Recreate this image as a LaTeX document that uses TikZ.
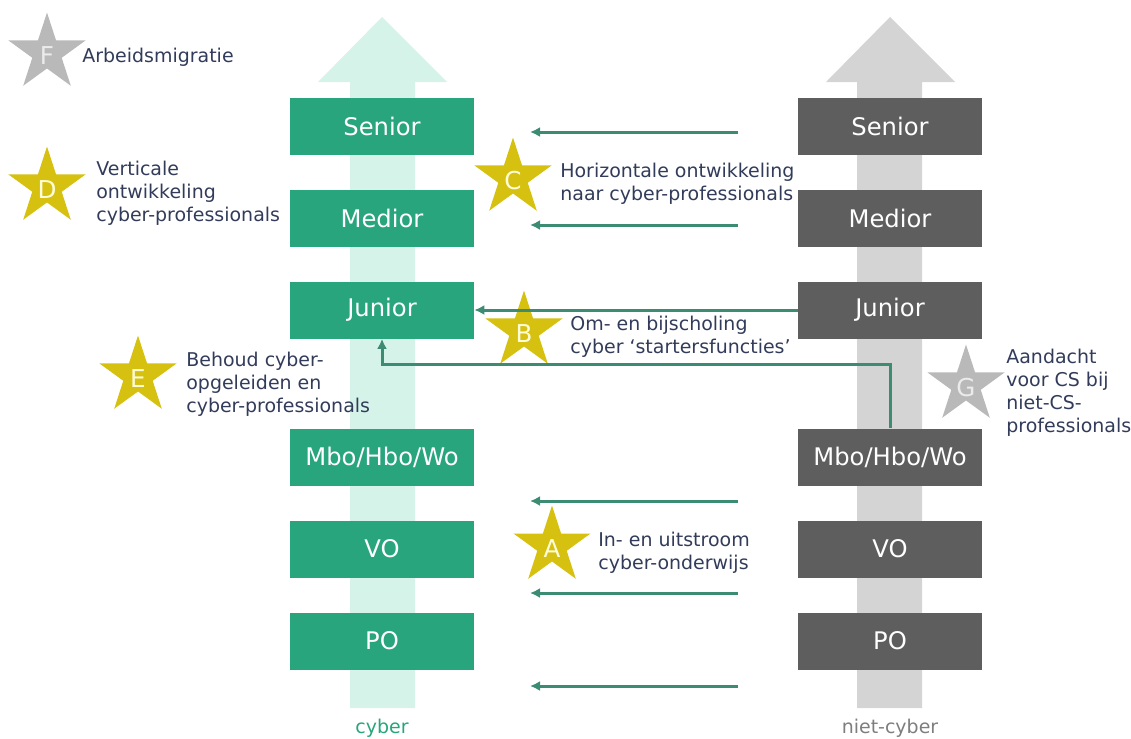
\documentclass[tikz,border=0pt]{standalone}
\usepackage{fontspec}
\setmainfont{DejaVu Sans}
\usetikzlibrary{shapes,arrows.meta,positioning,calc}

\definecolor{cybergreen}{RGB}{40,165,125}
\definecolor{cybermint}{RGB}{214,243,234}
\definecolor{nietgray}{RGB}{94,94,94}
\definecolor{nietlight}{RGB}{212,212,212}
\definecolor{linkgreen}{RGB}{60,140,115}
\definecolor{staryellow}{RGB}{214,192,16}
\definecolor{stargray}{RGB}{185,185,185}
\definecolor{labelnavy}{RGB}{50,60,90}

\newcommand{\sterletter}[1]{\smash{\raisebox{-6.5pt}{#1}}}

\begin{document}
\begin{tikzpicture}[x=0.02cm, y=-0.02cm,
    box/.style={rectangle, minimum width=3.68cm, minimum height=1.14cm, text=white, font=\fontsize{13.8}{16}\selectfont},
    cyberbox/.style={box, fill=cybergreen},
    nietbox/.style={box, fill=nietgray},
    ster/.style={star, star points=5, star point ratio=2.618, minimum size=1.62cm, inner sep=0pt, font=\fontsize{14}{16}\selectfont},
    geel/.style={ster, fill=staryellow, text=yellow!15},
    grijs/.style={ster, fill=stargray, text=white!92!black},
    label/.style={anchor=west, align=left, inner sep=0pt, text=labelnavy, font=\fontsize{10.8}{13}\selectfont},
    conn/.style={draw=linkgreen, line width=1.7pt, -{Latex[length=2mm,width=2mm]}}
]
\useasboundingbox (0,0) rectangle (1131,738);

% Background arrows
\fill[cybermint] (350,708) -- (350,82) -- (318,82) -- (382,17) -- (447,82) -- (415,82) -- (415,708) -- cycle;
\fill[nietlight] (857,708) -- (857,82) -- (826,82) -- (890,17) -- (955,82) -- (922,82) -- (922,708) -- cycle;

% Cyber column
\node[cyberbox] (senior) at (382,126) {Senior};
\node[cyberbox] (medior) at (382,218) {Medior};
\node[cyberbox] (junior) at (382,310) {Junior};
\node[cyberbox] (mbo) at (382,457) {Mbo/Hbo/Wo};
\node[cyberbox] (vo) at (382,549) {VO};
\node[cyberbox] (po) at (382,641) {PO};
\node[font=\fontsize{10.8}{13}\selectfont, text=cybergreen] (cyber) at (382,728) {cyber};

% Niet-cyber column
\node[nietbox] (nsenior) at (890,126) {Senior};
\node[nietbox] (nmedior) at (890,218) {Medior};
\node[nietbox] (njunior) at (890,310) {Junior};
\node[nietbox] (nmbo) at (890,457) {Mbo/Hbo/Wo};
\node[nietbox] (nvo) at (890,549) {VO};
\node[nietbox] (npo) at (890,641) {PO};
\node[font=\fontsize{10.8}{13}\selectfont, text=nietgray!80] (nietcyber) at (890,728) {niet-cyber};

% Stars
\node[grijs] (sterF) at (47,53) {\sterletter{F}};
\node[geel] (sterD) at (47,187) {\sterletter{D}};
\node[geel] (sterC) at (513,178) {\sterletter{C}};
\node[geel] (sterB) at (524,331) {\sterletter{B}};
\node[geel] (sterE) at (138,376) {\sterletter{E}};
\node[grijs] (sterG) at (966,385) {\sterletter{G}};
\node[geel] (sterA) at (552,546) {\sterletter{A}};

% Labels
\node[label] (txtF) at (82,57) {Arbeidsmigratie};
\node[label] (txtD) at (96,193) {Verticale\\ontwikkeling\\cyber-professionals};
\node[label] (txtC) at (560,184) {Horizontale ontwikkeling\\naar cyber-professionals};
\node[label] (txtB) at (570,337) {Om- en bijscholing\\cyber `startersfuncties'};
\node[label] (txtE) at (186,384) {Behoud cyber-\\opgeleiden en\\cyber-professionals};
\node[label] (txtG) at (1006,393) {Aandacht\\voor CS bij\\niet-CS-\\professionals};
\node[label] (txtA) at (598,553) {In- en uitstroom\\cyber-onderwijs};

% Arrows
\foreach \y [count=\i] in {132,225,501,593,686} {
    \coordinate (van\i) at (738,\y);
    \coordinate (naar\i) at (530,\y);
    \draw[conn] (van\i) -- (naar\i);
}
\draw[conn] (njunior.west) -- (junior.east);
\draw[conn] (nmbo.north) |- ([yshift=-0.52cm]junior.south) -- (junior.south);

\end{tikzpicture}
\end{document}
